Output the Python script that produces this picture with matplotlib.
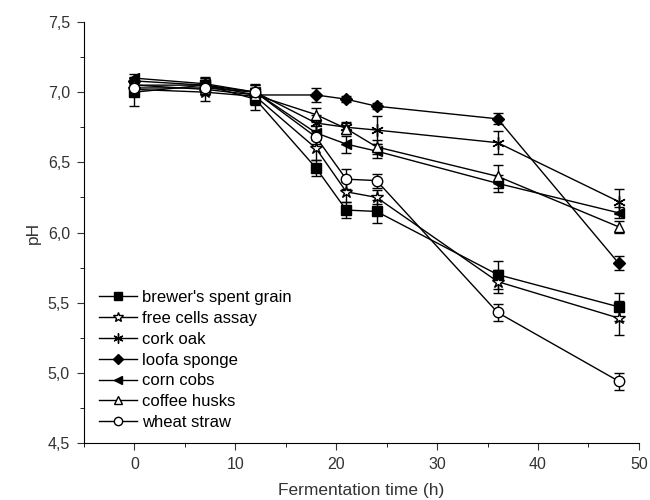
import numpy as np
import matplotlib
matplotlib.use("Agg")
from matplotlib import pyplot as plt
from matplotlib.ticker import MultipleLocator

plt.rcParams['font.family'] = ['Liberation Sans', 'DejaVu Sans']

# sampling times (h)
time_h = [0, 7, 12, 18, 21, 24, 36, 48]

# pH readings per support
brewers = [7.00, 7.05, 6.95, 6.46, 6.16, 6.15, 5.70, 5.47]
brewers_err = [0.10, 0.05, 0.08, 0.06, 0.06, 0.08, 0.10, 0.10]
free_cells = [7.02, 7.00, 6.97, 6.60, 6.29, 6.25, 5.65, 5.39]
free_cells_err = [0.05, 0.06, 0.06, 0.08, 0.07, 0.05, 0.08, 0.12]
cork_oak = [7.05, 7.05, 7.00, 6.78, 6.75, 6.73, 6.64, 6.22]
cork_oak_err = [0.04, 0.05, 0.05, 0.06, 0.04, 0.10, 0.08, 0.09]
loofa = [7.08, 7.05, 6.98, 6.98, 6.95, 6.90, 6.81, 5.78]
loofa_err = [0.03, 0.04, 0.04, 0.05, 0.02, 0.02, 0.04, 0.05]
corn_cobs = [7.10, 7.06, 7.00, 6.71, 6.63, 6.58, 6.35, 6.14]
corn_cobs_err = [0.03, 0.05, 0.06, 0.05, 0.06, 0.05, 0.06, 0.04]
coffee = [7.05, 7.02, 6.98, 6.84, 6.74, 6.61, 6.40, 6.04]
coffee_err = [0.03, 0.04, 0.05, 0.05, 0.04, 0.05, 0.08, 0.04]
wheat = [7.03, 7.03, 7.00, 6.68, 6.38, 6.37, 5.43, 4.94]
wheat_err = [0.03, 0.04, 0.05, 0.05, 0.07, 0.05, 0.06, 0.06]

series = [
    ("brewer's spent grain", brewers, brewers_err, 's', 'black'),
    ("free cells assay", free_cells, free_cells_err, '*', 'white'),
    ("cork oak", cork_oak, cork_oak_err, (6, 2, 0), 'black'),
    ("loofa sponge", loofa, loofa_err, 'D', 'black'),
    ("corn cobs", corn_cobs, corn_cobs_err, '<', 'black'),
    ("coffee husks", coffee, coffee_err, '^', 'white'),
    ("wheat straw", wheat, wheat_err, 'o', 'white'),
]

fig = plt.figure(figsize=(6.5, 5), dpi=100)
ax = fig.add_axes([0.129, 0.114, 0.854, 0.842])

handles = []
for name, y, err, mk, fc in series:
    ms = 7.5
    if mk == '*':
        ms = 9
    if mk == 'D':
        ms = 6.5
    if mk == (6, 2, 0):
        ms = 9
    c = ax.errorbar(time_h, y, yerr=err, color='black', lw=1, marker=mk,
                    mfc=fc, mec='black', ms=ms, capsize=3.5, elinewidth=1,
                    capthick=1, label=name)
    handles.append(c[0])

ax.set_xlim(-5, 50)
ax.set_ylim(4.5, 7.5)
ax.xaxis.set_major_locator(MultipleLocator(10))
ax.xaxis.set_minor_locator(MultipleLocator(5))
ax.yaxis.set_major_locator(MultipleLocator(0.5))
ax.yaxis.set_minor_locator(MultipleLocator(0.25))
ax.yaxis.set_major_formatter(plt.FuncFormatter(lambda v, p: f"{v:.1f}".replace('.', ',')))
ax.spines['top'].set_visible(False)
ax.spines['right'].set_visible(False)
ax.tick_params(which='major', length=5, labelsize=11.5, colors='#333333', pad=5)
ax.tick_params(which='minor', length=3)
ax.set_xlabel("Fermentation time (h)", fontsize=12.5, labelpad=8, color='#333333')
ax.set_ylabel("pH", fontsize=12.5, color='#333333', labelpad=5)

ax.legend(handles, [s[0] for s in series], loc='lower left', frameon=False,
          fontsize=12, handlelength=2.3, labelspacing=0.35, handletextpad=0.3,
          bbox_to_anchor=(0.0, -0.005), markerscale=0.8)

fig.savefig("out.png", dpi=100)
